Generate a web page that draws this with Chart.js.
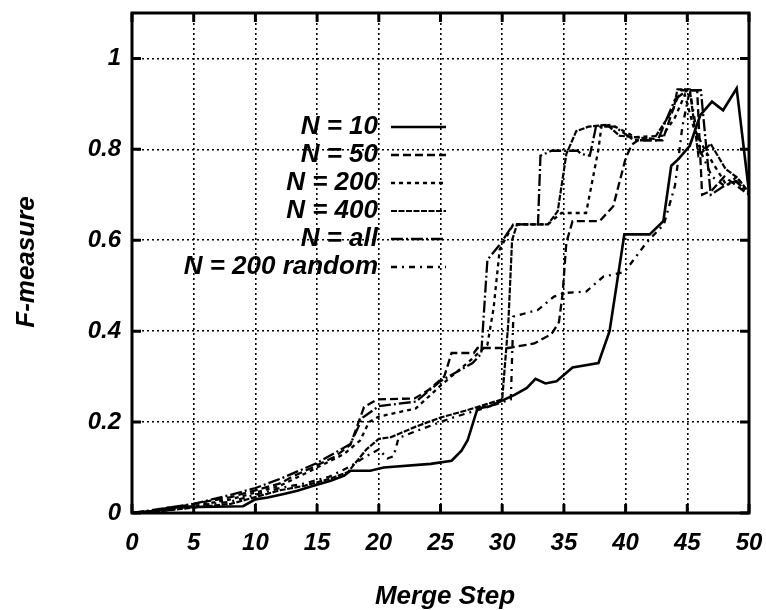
<!DOCTYPE html>
<html>
<head>
<meta charset="utf-8">
<script src="https://cdn.jsdelivr.net/npm/chart.js@4.4.1/dist/chart.umd.min.js"></script>
<style>
  html, body { margin: 0; padding: 0; background: #fff; }
</style>
</head>
<body>
<canvas id="grafico" width="766" height="610"></canvas>
<script>
// valores (Merge Step x F-measure)
const n10X = [0, 2, 3, 9, 10, 11, 12.3, 13.4, 14.7, 16.1, 17.2, 17.7, 19.3, 20.4, 24.2, 25.9, 26.7, 27.2, 28, 29, 31, 32, 32.7, 33.5, 34.4, 35.7, 37.8, 38.7, 39.9, 41.95, 43.06, 43.7, 44.3, 45.2, 46.05, 47, 47.9, 49, 50];
const n10Y = [0, 0.005, 0.012, 0.015, 0.03, 0.034, 0.042, 0.049, 0.06, 0.071, 0.082, 0.093, 0.093, 0.1, 0.108, 0.115, 0.137, 0.16, 0.23, 0.235, 0.26, 0.275, 0.295, 0.285, 0.29, 0.32, 0.33, 0.4, 0.613, 0.613, 0.642, 0.764, 0.779, 0.808, 0.875, 0.905, 0.886, 0.934, 0.706];

const n50X = [0, 2, 5, 8, 10, 12, 13, 15, 16.5, 17.7, 18.8, 19.9, 22.9, 24, 25.3, 25.9, 27.7, 28, 30.5, 32.6, 34, 34.6, 34.9, 35.2, 35.7, 37.9, 39, 40, 40.5, 41, 43, 44, 44.5, 45.8, 46.2, 47, 48, 49, 50];
const n50Y = [0, 0.005, 0.02, 0.035, 0.05, 0.065, 0.08, 0.105, 0.125, 0.15, 0.233, 0.25, 0.252, 0.27, 0.3, 0.352, 0.352, 0.363, 0.363, 0.373, 0.394, 0.42, 0.484, 0.595, 0.642, 0.642, 0.675, 0.78, 0.81, 0.82, 0.82, 0.9, 0.93, 0.93, 0.7, 0.71, 0.74, 0.72, 0.7];

const n200X = [0, 2, 5, 8, 10, 12, 15, 17.2, 18.5, 19.2, 20, 23, 25, 27.6, 28.8, 29.3, 29.8, 30.9, 33.7, 34.8, 36.8, 37.8, 38.05, 38.9, 39.5, 40.8, 43, 44, 44.8, 45.5, 46.4, 47.3, 48.2, 49, 50];
const n200Y = [0, 0.005, 0.015, 0.03, 0.045, 0.06, 0.1, 0.13, 0.16, 0.2, 0.212, 0.23, 0.28, 0.34, 0.37, 0.45, 0.58, 0.635, 0.635, 0.66, 0.66, 0.8, 0.852, 0.854, 0.845, 0.827, 0.83, 0.87, 0.92, 0.85, 0.8, 0.76, 0.72, 0.74, 0.7];

const n400X = [0, 2, 5, 8, 10, 12, 14, 16, 17.5, 19, 20, 21, 23, 25, 27, 28.8, 30, 30.5, 30.8, 31.2, 33.7, 34.5, 35.2, 36, 37, 38.5, 39.5, 42.3, 43.9, 44.2, 45.2, 45.9, 46.9, 48.1, 49, 50];
const n400Y = [0, 0.003, 0.012, 0.02, 0.035, 0.05, 0.06, 0.075, 0.09, 0.14, 0.163, 0.167, 0.19, 0.21, 0.225, 0.24, 0.25, 0.42, 0.6, 0.635, 0.635, 0.664, 0.79, 0.84, 0.85, 0.854, 0.83, 0.823, 0.89, 0.932, 0.932, 0.786, 0.812, 0.757, 0.739, 0.706];

const nAllX = [0, 2, 5, 8, 10, 12, 15, 17.7, 18.7, 20, 23, 25, 27.6, 28.3, 28.8, 29.8, 30.9, 32.9, 33.1, 34, 36.1, 36.4, 37.1, 37.6, 39.1, 40.7, 42.6, 44, 45, 46.1, 46.9, 48, 48.9, 50];
const nAllY = [0, 0.008, 0.02, 0.04, 0.055, 0.075, 0.11, 0.152, 0.21, 0.235, 0.245, 0.29, 0.33, 0.35, 0.557, 0.59, 0.635, 0.635, 0.786, 0.797, 0.797, 0.79, 0.786, 0.85, 0.85, 0.82, 0.82, 0.91, 0.93, 0.93, 0.7, 0.72, 0.73, 0.705];

const randX = [0, 2, 5, 8, 10, 12, 14, 16, 17.5, 19, 20, 20.7, 21.2, 21.6, 23, 25, 26, 28.8, 30.7, 30.9, 32.9, 34.2, 35, 36.8, 38.2, 39.9, 41.7, 43.1, 44, 44.6, 45.2, 46, 47, 48, 49, 50];
const randY = [0, 0.003, 0.015, 0.025, 0.04, 0.055, 0.065, 0.08, 0.1, 0.125, 0.14, 0.12, 0.125, 0.165, 0.18, 0.2, 0.21, 0.233, 0.25, 0.432, 0.447, 0.476, 0.484, 0.487, 0.52, 0.53, 0.595, 0.635, 0.72, 0.85, 0.93, 0.8, 0.74, 0.72, 0.73, 0.7];

const rotulos = ['N = 10', 'N = 50', 'N = 200', 'N = 400', 'N = all', 'N = 200 random'];
const xTicks = [0, 5, 10, 15, 20, 25, 30, 35, 40, 45, 50];
const yTicks = [0, 0.2, 0.4, 0.6, 0.8, 1];

const pares = (xs, ys) => xs.map((x, i) => ({ x: x, y: ys[i] }));

const serie = (label, xs, ys, dash, width) => ({
    label: label,
    data: pares(xs, ys),
    borderColor: '#000',
    borderWidth: width,
    borderDash: dash,
    pointRadius: 0,
    tension: 0,
    fill: false
});

const fonteTick = { family: 'Liberation Sans', size: 24, style: 'italic', weight: 'bold' };

// legenda, titulos e moldura desenhados a mao
const extras = {
    id: 'extras',
    afterDraw(chart) {
        const ctx = chart.ctx;
        const a = chart.chartArea;
        const xs = chart.scales.x, ys = chart.scales.y;
        ctx.save();
        // moldura
        ctx.strokeStyle = '#000';
        ctx.lineWidth = 3;
        ctx.setLineDash([]);
        ctx.strokeRect(a.left, a.top, a.right - a.left, a.bottom - a.top);
        // marcas internas
        xTicks.forEach(v => {
            const px = xs.getPixelForValue(v);
            ctx.beginPath();
            ctx.moveTo(px, a.bottom); ctx.lineTo(px, a.bottom - 9);
            ctx.moveTo(px, a.top); ctx.lineTo(px, a.top + 9);
            ctx.stroke();
        });
        yTicks.forEach(v => {
            const py = ys.getPixelForValue(v);
            ctx.beginPath();
            ctx.moveTo(a.left, py); ctx.lineTo(a.left + 9, py);
            ctx.moveTo(a.right, py); ctx.lineTo(a.right - 9, py);
            ctx.stroke();
        });
        // legenda
        ctx.fillStyle = '#000';
        ctx.font = 'italic bold 26px "Liberation Sans"';
        ctx.textAlign = 'right';
        ctx.textBaseline = 'middle';
        chart.data.datasets.forEach((ds, i) => {
            const y = 127 + 28 * i;
            ctx.fillText(ds.label, 378, y);
            ctx.lineWidth = ds.borderWidth;
            ctx.setLineDash(ds.borderDash);
            ctx.beginPath();
            ctx.moveTo(391, y);
            ctx.lineTo(446, y);
            ctx.stroke();
        });
        ctx.setLineDash([]);
        // titulos dos eixos
        ctx.font = 'italic bold 26px "Liberation Sans"';
        ctx.textAlign = 'center';
        ctx.fillText('Merge Step', 445, 597);
        ctx.translate(27, 262);
        ctx.rotate(-Math.PI / 2);
        ctx.fillText('F-measure', 0, 0);
        ctx.restore();
    }
};

new Chart(document.getElementById('grafico'), {
    type: 'line',
    data: {
        datasets: [
            serie(rotulos[0], n10X, n10Y, [], 2.6),
            serie(rotulos[1], n50X, n50Y, [8, 4], 2.3),
            serie(rotulos[2], n200X, n200Y, [4, 4], 2.3),
            serie(rotulos[3], n400X, n400Y, [6, 1.5], 2.2),
            serie(rotulos[4], nAllX, nAllY, [12, 3, 2, 3], 2.3),
            serie(rotulos[5], randX, randY, [6, 5, 2, 5], 2.3)
        ]
    },
    options: {
        responsive: false,
        animation: false,
        devicePixelRatio: 1,
        layout: { padding: { left: 0, right: 17, top: 13, bottom: 0 } },
        plugins: { legend: { display: false }, tooltip: { enabled: false } },
        scales: {
            x: {
                type: 'linear',
                min: 0,
                max: 50,
                afterBuildTicks: s => { s.ticks = xTicks.map(v => ({ value: v })); },
                afterFit: s => { s.height = 97; s.paddingLeft = 0; s.paddingRight = 0; },
                ticks: { color: '#000', font: fonteTick, padding: 16, maxRotation: 0 },
                grid: { color: '#000', lineWidth: 1.6, drawTicks: false },
                border: { display: false, dash: [2, 3] }
            },
            y: {
                min: 0,
                max: 1.1,
                afterBuildTicks: s => { s.ticks = yTicks.map(v => ({ value: v })); },
                afterFit: s => { s.width = 132; s.paddingTop = 0; s.paddingBottom = 0; },
                ticks: { color: '#000', font: fonteTick, padding: 11, callback: v => String(v) },
                grid: { color: '#000', lineWidth: 1.6, drawTicks: false },
                border: { display: false, dash: [2, 3] }
            }
        }
    },
    plugins: [extras]
});
</script>
</body>
</html>
